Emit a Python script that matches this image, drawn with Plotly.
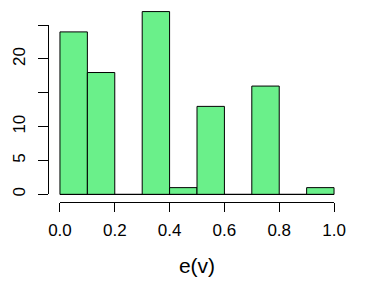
import plotly.graph_objects as go

# histogram of e(v): 10 bins of width 0.1
bin_edges = [0.0, 0.1, 0.2, 0.3, 0.4, 0.5, 0.6, 0.7, 0.8, 0.9, 1.0]
counts = [24, 18, 0, 27, 1, 13, 0, 16, 0, 1]

x_ticks = [0.0, 0.2, 0.4, 0.6, 0.8, 1.0]
x_tick_text = ["0.0", "0.2", "0.4", "0.6", "0.8", "1.0"]
y_ticks = [0, 5, 10, 15, 20, 25]
y_tick_text = ["0", "5", "10", "", "20", ""]

FILL = "rgb(106,240,138)"
FONT = "Liberation Sans, Arial, sans-serif"

centers = [(a + b) / 2 for a, b in zip(bin_edges[:-1], bin_edges[1:])]
widths = [b - a for a, b in zip(bin_edges[:-1], bin_edges[1:])]

fig = go.Figure()

# baseline drawn by the empty bins in R
fig.add_trace(go.Scatter(
    x=bin_edges, y=[0] * len(bin_edges), mode="lines",
    line=dict(color="black", width=1), hoverinfo="skip", showlegend=False
))
fig.add_trace(go.Bar(
    x=centers, y=counts, width=widths,
    marker=dict(color=FILL, line=dict(color="black", width=1)),
    showlegend=False
))
# dummy traces so the R-style detached axes are created
fig.add_trace(go.Scatter(x=[None], y=[None], xaxis="x2", yaxis="y", showlegend=False))
fig.add_trace(go.Scatter(x=[None], y=[None], xaxis="x", yaxis="y2", showlegend=False))

xr = [-0.04, 1.04]
yr = [-1.12, 28.12]

fig.update_layout(
    width=380, height=282,
    margin=dict(l=49, r=35, t=4, b=80, autoexpand=False),
    paper_bgcolor="white", plot_bgcolor="rgba(0,0,0,0)",
    font=dict(family=FONT, color="black"),
    showlegend=False, bargap=0,
    xaxis=dict(range=xr, visible=False, domain=[0, 1], automargin=False),
    yaxis=dict(range=yr, visible=False, domain=[0, 1], automargin=False),
    xaxis2=dict(
        range=[0, 1], anchor="y", automargin=False,
        domain=[(0 - xr[0]) / (xr[1] - xr[0]), (1 - xr[0]) / (xr[1] - xr[0])],
        showline=True, linecolor="black", linewidth=1,
        ticks="outside", ticklen=9, tickwidth=1, tickcolor="black",
        tickvals=x_ticks, ticktext=x_tick_text,
        tickfont=dict(size=17), ticklabelstandoff=4,
        showgrid=False, zeroline=False,
        title=dict(text="e(v)", font=dict(size=21), standoff=18),
    ),
    yaxis2=dict(
        range=[0, 25], anchor="x", automargin=False,
        domain=[(0 - yr[0]) / (yr[1] - yr[0]), (25 - yr[0]) / (yr[1] - yr[0])],
        showline=True, linecolor="black", linewidth=1,
        ticks="outside", ticklen=10, tickwidth=1, tickcolor="black",
        tickvals=y_ticks, ticktext=y_tick_text, tickangle=-90,
        tickfont=dict(size=17), ticklabelstandoff=6,
        showgrid=False, zeroline=False,
    ),
)

# drop the page's default body margin so the figure sits at the window origin
fig.write_html(
    "out.html",
    config={"displayModeBar": False, "staticPlot": True},
    post_script="document.body.style.margin='0';",
)
